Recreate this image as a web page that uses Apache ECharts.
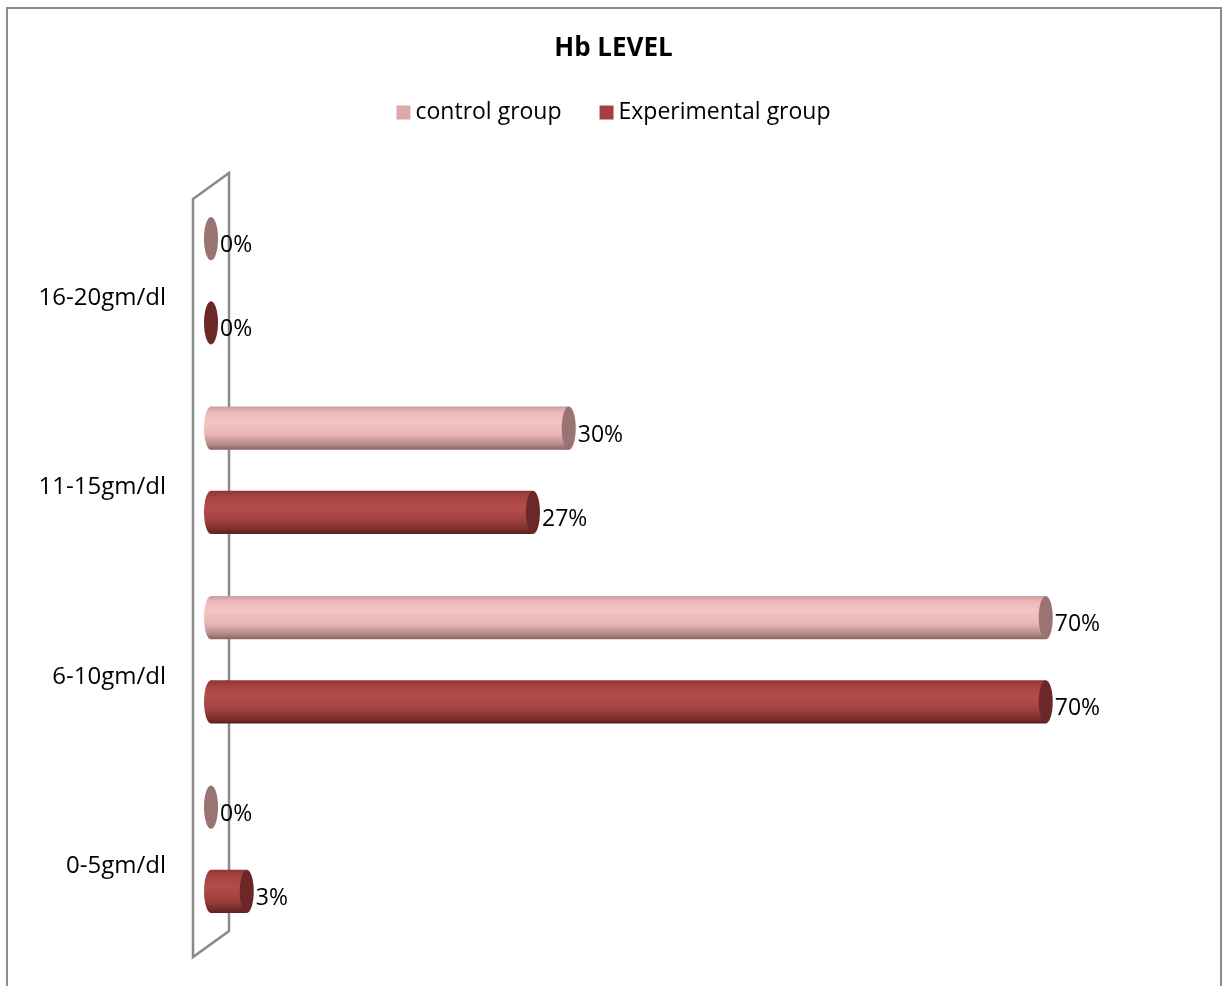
<!DOCTYPE html>
<html>
<head>
<meta charset="utf-8">
<script src="https://cdn.jsdelivr.net/npm/echarts@6/dist/echarts.min.js"></script>
<style>
  html, body { margin: 0; padding: 0; background: #fff; }
  #chart { width: 1227px; height: 986px; }
</style>
</head>
<body>
<div id="chart"></div>
<script>
// Hb level categories (bottom to top) and percentage per group
const categories = ['0-5gm/dl', '6-10gm/dl', '11-15gm/dl', '16-20gm/dl'];
const controlGroup = [0, 70, 30, 0];
const experimentalGroup = [3, 70, 27, 0];

const FONT = '"Open Sans", "Noto Sans", sans-serif';

// Cylinder palettes: body gradient, end cap and legend swatch
const palettes = {
  control: {
    legend: '#dba9a8',
    cap: '#9a7473',
    body: [
      [0, '#c99d9c'], [0.12, '#eab9b8'], [0.35, '#f3c4c3'],
      [0.65, '#e7b4b3'], [0.88, '#b48887'], [1, '#8a6261']
    ]
  },
  experimental: {
    legend: '#a5403e',
    cap: '#6c2828',
    body: [
      [0, '#8f3533'], [0.15, '#a64442'], [0.4, '#b34d4b'],
      [0.7, '#9e403e'], [0.9, '#7a2c2b'], [1, '#5c1f1f']
    ]
  }
};

function gradient(stops) {
  return new echarts.graphic.LinearGradient(0, 0, 0, 1,
    stops.map(s => ({ offset: s[0], color: s[1] })));
}

// Draws one horizontal cylinder per data item
function cylinder(pal, side) {
  return function (params, api) {
    const cat = api.value(1);
    const val = api.value(0);
    const band = api.size([0, 1])[1];
    const end = api.coord([val, cat]);
    const start = api.coord([0, cat]);
    const h = band * 0.228;
    const cy = end[1] + side * band * 0.222;
    const rx = 7;
    const ry = h / 2;
    const children = [];
    if (end[0] - start[0] > 0.5) {
      children.push({
        type: 'ellipse',
        shape: { cx: start[0], cy: cy, rx: rx, ry: ry },
        style: { fill: gradient(pal.body) }
      });
      children.push({
        type: 'rect',
        shape: { x: start[0], y: cy - ry, width: end[0] - start[0], height: h },
        style: { fill: gradient(pal.body) }
      });
    }
    children.push({
      type: 'ellipse',
      shape: { cx: end[0], cy: cy, rx: rx, ry: ry },
      style: { fill: pal.cap }
    });
    children.push({
      type: 'text',
      style: {
        text: val + '%',
        x: end[0] + rx + 2,
        y: cy + 7,
        verticalAlign: 'middle',
        align: 'left',
        fill: '#000',
        font: '23px ' + FONT
      }
    });
    return { type: 'group', children: children };
  };
}

// Slanted back wall drawn from the grid rectangle
function wall(params, api) {
  const cs = params.coordSys;
  const x0 = api.coord([0, 0])[0];
  const d = 18, s = 13;
  return {
    type: 'polygon',
    shape: {
      points: [
        [x0 - d, cs.y + s], [x0 + d, cs.y - s],
        [x0 + d, cs.y + cs.height - s], [x0 - d, cs.y + cs.height + s]
      ]
    },
    style: { fill: 'none', stroke: '#8a8a8a', lineWidth: 2.5 },
    silent: true
  };
}

const chart = echarts.init(document.getElementById('chart'));
chart.setOption({
  backgroundColor: '#fff',
  animation: false,
  title: {
    text: 'Hb LEVEL',
    left: 'center',
    top: 31,
    textStyle: { fontFamily: FONT, fontSize: 26, fontWeight: 'bold', color: '#000' }
  },
  legend: {
    top: 96,
    left: 'center',
    itemWidth: 14,
    itemHeight: 14,
    itemGap: 38,
    icon: 'rect',
    textStyle: { fontFamily: FONT, fontSize: 23, color: '#000' },
    data: ['control group', 'Experimental group']
  },
  grid: { left: 211, right: 62, top: 186, bottom: 42 },
  xAxis: {
    type: 'value', min: 0, max: 80,
    show: false
  },
  yAxis: {
    type: 'category',
    data: categories,
    axisLine: { show: false },
    axisTick: { show: false },
    axisLabel: {
      margin: 45,
      verticalAlign: 'top',
      lineHeight: 34,
      fontFamily: FONT, fontSize: 24, color: '#000'
    }
  },
  graphic: [{
    type: 'rect',
    shape: { x: 7, y: 8, width: 1214, height: 990 },
    style: { fill: 'none', stroke: '#8c8c8c', lineWidth: 2 },
    z: 100, silent: true
  }],
  series: [
    {
      type: 'custom', name: 'wall', data: [[0, 0]],
      renderItem: wall, z: 1, silent: true
    },
    {
      type: 'custom', name: 'control group',
      itemStyle: { color: palettes.control.legend },
      data: controlGroup.map((v, i) => [v, i]),
      renderItem: cylinder(palettes.control, -1), z: 2
    },
    {
      type: 'custom', name: 'Experimental group',
      itemStyle: { color: palettes.experimental.legend },
      data: experimentalGroup.map((v, i) => [v, i]),
      renderItem: cylinder(palettes.experimental, 1), z: 2
    }
  ]
});
</script>
</body>
</html>
